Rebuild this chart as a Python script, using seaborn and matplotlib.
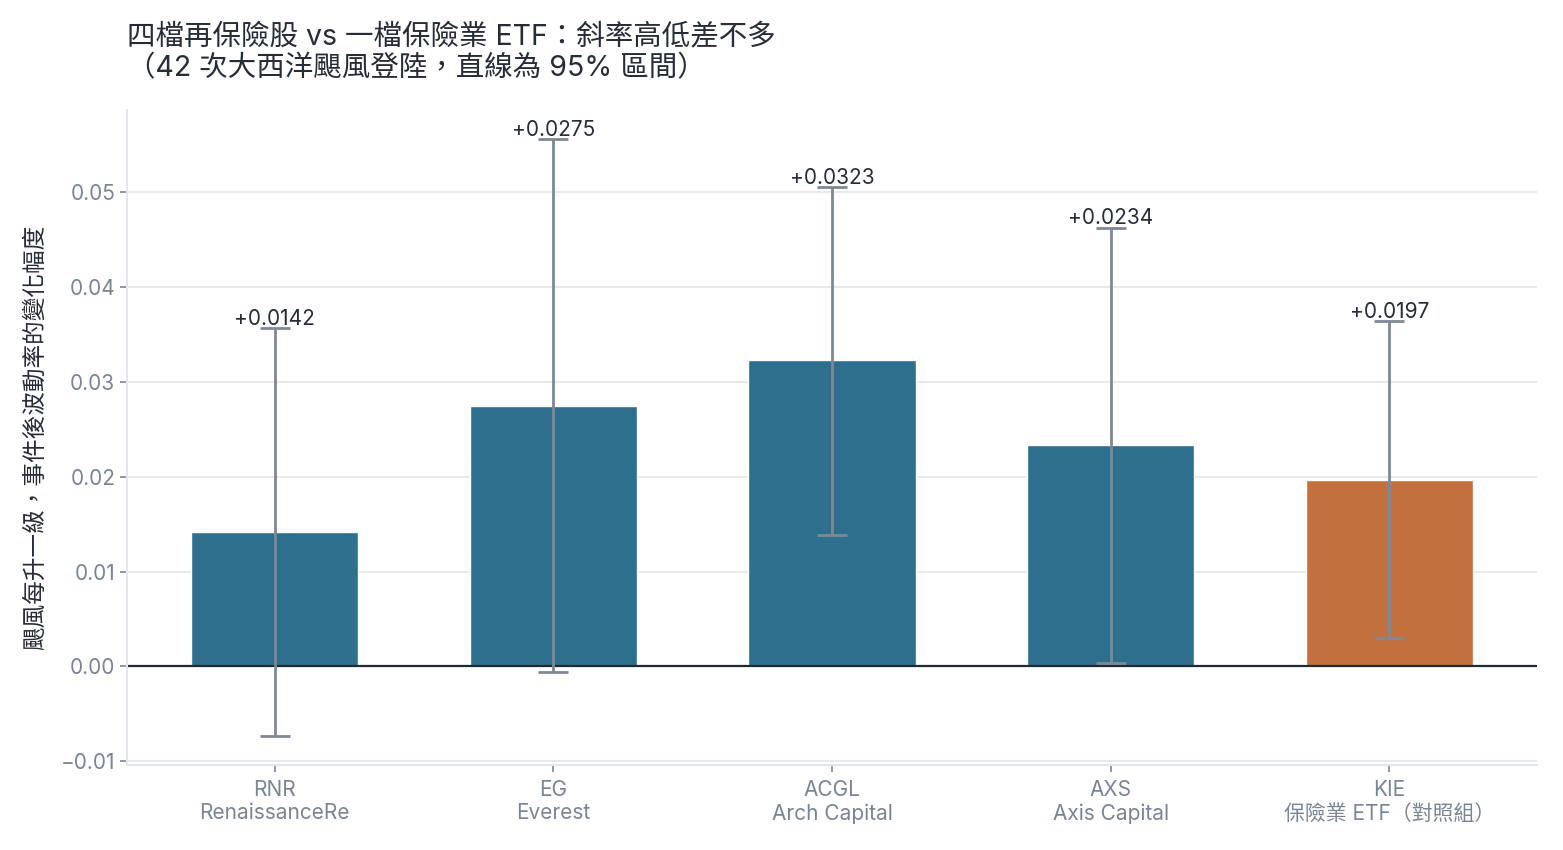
import numpy as np
import pandas as pd
import seaborn as sns
import matplotlib.pyplot as plt

# Data
tickers = ["RNR", "EG", "ACGL", "AXS", "KIE"]
names = ["RenaissanceRe", "Everest", "Arch Capital", "Axis Capital", "保險業 ETF（對照組）"]
slopes = [0.0142, 0.0275, 0.0323, 0.0234, 0.0197]
ci_low = [-0.0073, -0.0006, 0.0139, 0.0004, 0.0030]
ci_high = [0.0357, 0.0556, 0.0506, 0.0463, 0.0364]
groups = ["re", "re", "re", "re", "etf"]

BLUE = "#2e6f8e"
ORANGE = "#c1703e"
ERR = "#7f8896"
GRID = "#e3e6ea"
TICK = "#7a8594"
TEXT = "#262d36"

sns.set_theme(style="white")
plt.rcParams["font.family"] = ["Inter", "Noto Sans CJK TC", "DejaVu Sans"]

df = pd.DataFrame({
    "label": [f"{t}\n{n}" for t, n in zip(tickers, names)],
    "slope": slopes,
    "group": groups,
})

fig = plt.figure(figsize=(15.63, 8.5), dpi=100)
ax = fig.add_axes([0.0813, 0.1, 0.902, 0.7706])

sns.barplot(data=df, x="label", y="slope", hue="group",
            palette={"re": BLUE, "etf": ORANGE}, width=0.6, saturation=1,
            dodge=False, legend=False, ax=ax, zorder=2)

x = np.arange(len(tickers))
lo = np.array(slopes) - np.array(ci_low)
hi = np.array(ci_high) - np.array(slopes)
ax.errorbar(x, slopes, yerr=[lo, hi], fmt="none", ecolor=ERR,
            elinewidth=2, capsize=11, capthick=2, zorder=3)

for xi, s, h in zip(x, slopes, ci_high):
    ax.text(xi, h - 0.0001, f"{s:+.4f}", ha="center", va="bottom",
            fontsize=15, color=TEXT, zorder=4)

ax.axhline(0, color="#1f2a33", lw=1.6, zorder=2.5)
ax.set_ylim(-0.0104, 0.0587)
ax.set_xlim(-0.53, 4.53)
ax.set_yticks([-0.01, 0.0, 0.01, 0.02, 0.03, 0.04, 0.05])
ax.set_yticklabels(["\u22120.01", "0.00", "0.01", "0.02", "0.03", "0.04", "0.05"])
ax.yaxis.grid(True, color=GRID, lw=1.2, zorder=0)
ax.set_axisbelow(True)

for side in ["top", "right"]:
    ax.spines[side].set_visible(False)
for side in ["left", "bottom"]:
    ax.spines[side].set_color(GRID)
    ax.spines[side].set_linewidth(1.5)

ax.tick_params(axis="both", colors=TICK, labelsize=15, length=5, width=1.2,
               bottom=True, left=True)
ax.tick_params(axis="x", pad=6)
ax.set_xlabel("")
ax.set_ylabel("颶風每升一級，事件後波動率的變化幅度", fontsize=17, color=TEXT,
              labelpad=10)

ax.set_title("四檔再保險股 vs 一檔保險業 ETF：斜率高低差不多\n（42 次大西洋颶風登陸，直線為 95% 區間）",
             loc="left", fontsize=20.5, color=TEXT, pad=24, linespacing=1.25)

fig.savefig("out.png", dpi=100)
